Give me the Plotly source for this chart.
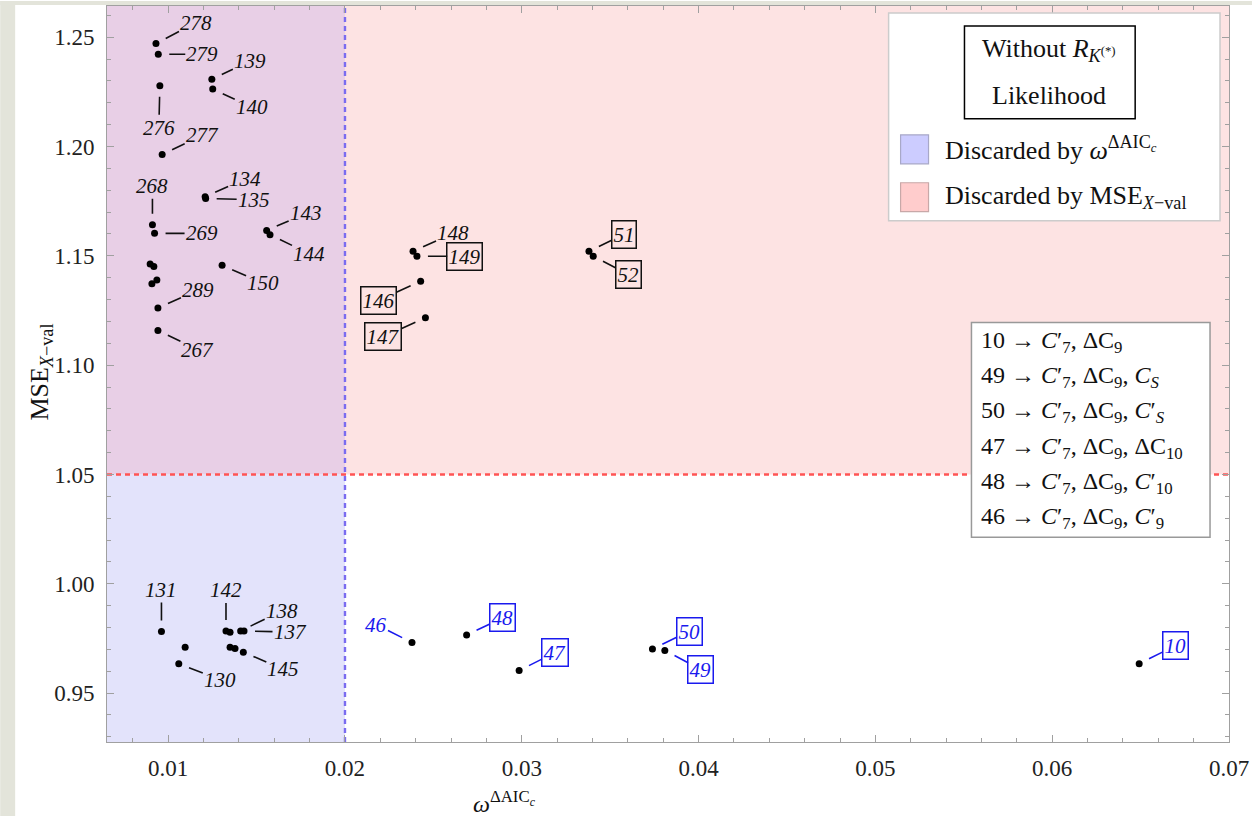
import plotly.graph_objects as go

# ---------------- data ----------------
model = ["278", "279", "276", "139", "140", "277", "134", "135", "268", "269",
         "", "", "", "", "289", "267", "143", "144", "150",
         "148", "149", "146", "147", "51", "52",
         "131", "142", "", "138", "137", "", "", "145", "", "130",
         "46", "48", "47", "50", "49", "10"]
omega = [0.00931, 0.00944, 0.00953, 0.01247, 0.01252, 0.00966, 0.01209, 0.01212, 0.00911, 0.00923,
         0.00898, 0.00919, 0.00936, 0.00908, 0.00942, 0.00942, 0.01557, 0.01576, 0.01305,
         0.02385, 0.02407, 0.02428, 0.02455, 0.03380, 0.03404,
         0.00962, 0.01327, 0.01350, 0.01410, 0.01429, 0.01350, 0.01378, 0.01425, 0.01096, 0.01060,
         0.02379, 0.02688, 0.02985, 0.03739, 0.03809, 0.06492]
mse = [1.2471, 1.2422, 1.2278, 1.2308, 1.2263, 1.1964, 1.1770, 1.1762, 1.1642, 1.1603,
       1.1463, 1.1451, 1.1390, 1.1372, 1.1261, 1.1158, 1.1616, 1.1597, 1.1457,
       1.1521, 1.1498, 1.1384, 1.1217, 1.1521, 1.1498,
       0.9781, 0.9784, 0.9778, 0.9784, 0.9784, 0.9710, 0.9704, 0.9687, 0.9710, 0.9634,
       0.9731, 0.9766, 0.9603, 0.9701, 0.9695, 0.9634]

omega_cut = 0.02
mse_cut = 1.05
x_ticks = [0.01, 0.02, 0.03, 0.04, 0.05, 0.06, 0.07]
y_ticks = [0.95, 1.00, 1.05, 1.10, 1.15, 1.20, 1.25]

key_lines = [
    "10 → <i>C</i>′<sub>7</sub>, ΔC<sub>9</sub>",
    "49 → <i>C</i>′<sub>7</sub>, ΔC<sub>9</sub>, <i>C</i><sub><i>S</i></sub>",
    "50 → <i>C</i>′<sub>7</sub>, ΔC<sub>9</sub>, <i>C</i>′<sub><i>S</i></sub>",
    "47 → <i>C</i>′<sub>7</sub>, ΔC<sub>9</sub>, ΔC<sub>10</sub>",
    "48 → <i>C</i>′<sub>7</sub>, ΔC<sub>9</sub>, <i>C</i>′<sub>10</sub>",
    "46 → <i>C</i>′<sub>7</sub>, ΔC<sub>9</sub>, <i>C</i>′<sub>9</sub>",
]

# ---------------- label styling (offsets in px, style) ----------------
# kind: "k" plain black, "kb" boxed black, "b" plain blue, "bb" boxed blue
label_style = {
    "278": (40, -21, "k"), "279": (44, 0, "k"), "139": (38, -18, "k"), "140": (39, 18, "k"),
    "276": (-1, 42, "k"), "277": (40, -19, "k"), "268": (0, -39, "k"), "134": (40, -18, "k"),
    "135": (48, 1, "k"), "269": (47, 0, "k"), "143": (39, -17, "k"), "144": (39, 19, "k"),
    "150": (41, 18, "k"), "289": (40, -18, "k"), "267": (40, 19, "k"),
    "148": (40, -18, "k"), "149": (48, 0, "kb"), "146": (-42, 19, "kb"), "147": (-42, 19, "kb"),
    "51": (35, -17, "kb"), "52": (35, 18, "kb"),
    "131": (0, -42, "k"), "142": (0, -41, "k"), "138": (41, -20, "k"), "137": (46, 1, "k"),
    "145": (40, 17, "k"), "130": (41, 16, "k"),
    "46": (-36, -18, "b"), "48": (36, -17, "bb"), "47": (36, -18, "bb"), "50": (37, -18, "bb"),
    "49": (36, 19, "bb"), "10": (36, -18, "bb"),
}

W, H = 1254, 816
ML, MR, MT, MB = 107, 23, 5, 74
PW, PH = W - ML - MR, H - MT - MB
xr = [0.00654, 0.07]
yr = [0.9276, 1.2643]

SERIF = "Liberation Serif"
BLUE = "#1a1aee"


def px(x):
    return (x - ML) / PW


def py(y):
    return (H - MB - y) / PH


fig = go.Figure()

fig.add_trace(go.Scatter(x=omega, y=mse, mode="markers",
                         marker=dict(color="black", size=7),
                         hoverinfo="skip", showlegend=False))

shapes = [
    # shaded regions
    dict(type="rect", xref="x", yref="y", x0=xr[0], x1=omega_cut, y0=yr[0], y1=mse_cut,
         fillcolor="#e3e3fb", line_width=0, layer="below"),
    dict(type="rect", xref="x", yref="y", x0=xr[0], x1=omega_cut, y0=mse_cut, y1=yr[1],
         fillcolor="#e8cfe6", line_width=0, layer="below"),
    dict(type="rect", xref="x", yref="y", x0=omega_cut, x1=xr[1], y0=mse_cut, y1=yr[1],
         fillcolor="#fde3e3", line_width=0, layer="below"),
    # threshold lines
    dict(type="line", xref="x", yref="y", x0=xr[0], x1=xr[1], y0=mse_cut, y1=mse_cut,
         line=dict(color="#ff5454", width=2.5, dash="5px,4px"), layer="below"),
    dict(type="line", xref="x", yref="y", x0=omega_cut, x1=omega_cut, y0=yr[0], y1=yr[1],
         line=dict(color="#7a6cf0", width=2.4, dash="5px,4px"), layer="below"),
    # page frame (grey bands)
    dict(type="rect", xref="paper", yref="paper", x0=px(0), x1=px(15), y0=py(816), y1=py(0),
         fillcolor="#e3e4da", line_width=0, layer="above"),
    dict(type="rect", xref="paper", yref="paper", x0=px(0), x1=px(1254), y0=py(4), y1=py(0),
         fillcolor="#e3e4da", line_width=0, layer="above"),
    # legend box
    dict(type="rect", xref="paper", yref="paper", x0=px(890), x1=px(1222), y0=py(220), y1=py(12),
         fillcolor="white", line=dict(color="#cccccc", width=1.5), layer="above"),
    dict(type="rect", xref="paper", yref="paper", x0=px(966), x1=px(1137), y0=py(118), y1=py(25),
         fillcolor="white", line=dict(color="black", width=1.5), layer="above"),
    dict(type="rect", xref="paper", yref="paper", x0=px(902), x1=px(930), y0=py(163), y1=py(134),
         fillcolor="#ccccff", line=dict(color="#a8a8c8", width=1.2), layer="above"),
    dict(type="rect", xref="paper", yref="paper", x0=px(902), x1=px(930), y0=py(211), y1=py(182),
         fillcolor="#ffcccc", line=dict(color="#c8a8a8", width=1.2), layer="above"),
    # key box
    dict(type="rect", xref="paper", yref="paper", x0=px(973), x1=px(1212), y0=py(537), y1=py(322),
         fillcolor="white", line=dict(color="#999999", width=1.5), layer="above"),
]

annotations = []
for m, xv, yv in zip(model, omega, mse):
    if not m:
        continue
    dx, dy, kind = label_style[m]
    col = BLUE if kind.startswith("b") else "#111111"
    boxed = kind.endswith("b") and len(kind) == 2
    annotations.append(dict(
        x=xv, y=yv, xref="x", yref="y", ax=dx, ay=dy,
        text=f"<i>{m}</i>", showarrow=True, arrowhead=0, arrowwidth=1.6,
        arrowcolor=col, standoff=11,
        font=dict(family=SERIF, size=21, color=col),
        bordercolor=col if boxed else "rgba(0,0,0,0)",
        borderwidth=1.5 if boxed else 0, borderpad=1,
    ))


def note(x, y, text, size=23, xanchor="center", **kw):
    return dict(xref="paper", yref="paper", x=px(x), y=py(y), showarrow=False,
                xanchor=xanchor, yanchor="middle", text=text,
                font=dict(family=SERIF, size=size, color="#111"), **kw)


annotations += [
    note(1051, 49, "Without <i>R</i><sub><i>K</i><sup>(*)</sup></sub>", size=26),
    note(1051, 95, "Likelihood", size=26),
    note(944, 148, "Discarded by <i>ω</i><sup>ΔAIC<sub><i>c</i></sub></sup>", size=26, xanchor="left"),
    note(944, 196, "Discarded by MSE<sub><i>X</i>−val</sub>", size=26, xanchor="left"),
    note(505, 802, "<i>ω</i><sup>ΔAIC<sub><i>c</i></sub></sup>", size=24),
    note(40, 372, "MSE<sub><i>X</i>−val</sub>", size=26, textangle=-90),
]
for i, line in enumerate(key_lines):
    annotations.append(note(981, 341 + i * 35.4, line, size=24, xanchor="left"))

axis_common = dict(showline=True, linecolor="#a0a0a0", linewidth=1, mirror="ticks",
                   ticks="inside", ticklen=7, tickcolor="#a0a0a0", showgrid=False,
                   zeroline=False, tickfont=dict(family=SERIF, size=23, color="#222"),
                   tickformat=".2f")

fig.update_layout(
    width=W, height=H,
    margin=dict(l=ML, r=MR, t=MT, b=MB),
    paper_bgcolor="white", plot_bgcolor="white",
    shapes=shapes, annotations=annotations, showlegend=False,
    xaxis=dict(range=xr, tickvals=x_ticks, ticklabelstandoff=5,
               minor=dict(ticks="inside", ticklen=4, dtick=0.002, tick0=0, tickcolor="#a0a0a0"),
               **axis_common),
    yaxis=dict(range=yr, tickvals=y_ticks, ticklabelstandoff=7,
               minor=dict(ticks="inside", ticklen=4, dtick=0.01, tick0=0, tickcolor="#a0a0a0"),
               **axis_common),
)

fig.write_html("out.html")
